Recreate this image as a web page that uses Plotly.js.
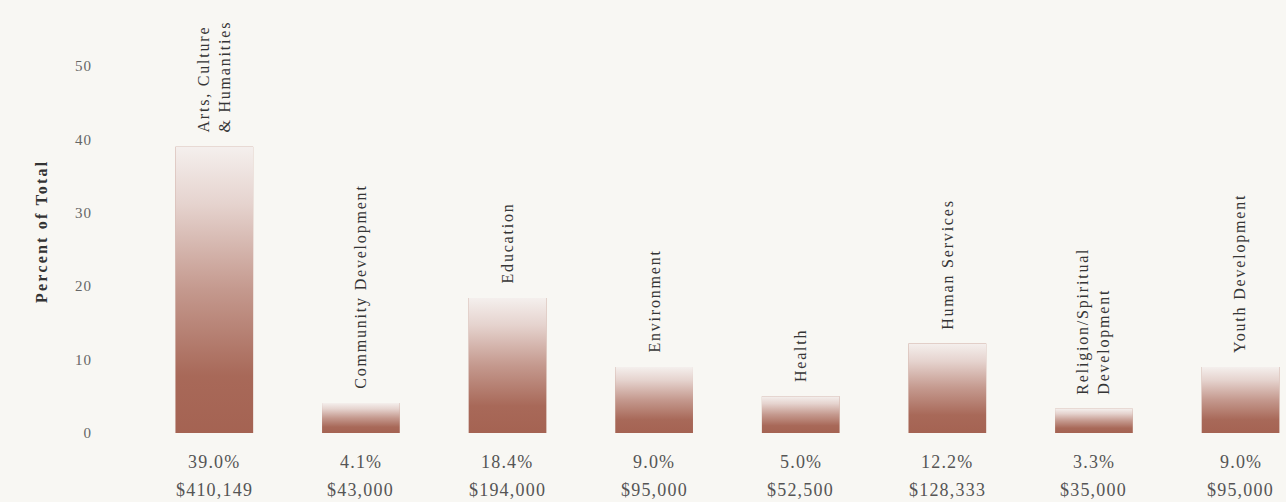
<!DOCTYPE html>
<html>
<head>
<meta charset="utf-8">
<script src="https://cdn.plot.ly/plotly-3.0.1.min.js"></script>
<style>
  html, body { margin: 0; padding: 0; background: #f8f7f3; }
  #chart { width: 1286px; height: 502px; }
  .annotation-text { letter-spacing: 1.2px; }
  .ytick text { letter-spacing: 1px; }
</style>
</head>
<body>
<div id="chart"></div>
<script>
// ---- data ----
const categories = [
  'Arts, Culture<br>& Humanities',
  'Community Development',
  'Education',
  'Environment',
  'Health',
  'Human Services',
  'Religion/Spiritual<br>Development',
  'Youth Development'
];
const percents = [39.0, 4.1, 18.4, 9.0, 5.0, 12.2, 3.3, 9.0];
const percentLabels = ['39.0%', '4.1%', '18.4%', '9.0%', '5.0%', '12.2%', '3.3%', '9.0%'];
const amountLabels = ['$410,149', '$43,000', '$194,000', '$95,000', '$52,500', '$128,333', '$35,000', '$95,000'];
const yTicks = [0, 10, 20, 30, 40, 50];
const yTitle = 'Percent of Total';

// ---- styling ----
const BG = '#f8f7f3';
const BAR = '#a3604f';
const BAR_W = 0.53;
const SERIF = 'Liberation Serif, serif';
const idx = categories.map((_, i) => i);

const traces = [];
traces.push({
  type: 'bar',
  x: idx,
  y: percents,
  width: BAR_W,
  marker: { color: BAR, line: { width: 0 } },
  hoverinfo: 'skip',
  showlegend: false
});

// vertical fade overlay for each bar, built from the bar's own value
idx.forEach(i => {
  const v = percents[i];
  const l = i - BAR_W / 2, r = i + BAR_W / 2;
  traces.push({
    type: 'scatter',
    mode: 'none',
    x: [l, r, r, l, l],
    y: [0, 0, v, v, 0],
    fill: 'toself',
    fillgradient: {
      type: 'vertical',
      colorscale: [
        [0, 'rgba(246,240,238,0.02)'],
        [0.2, 'rgba(246,240,238,0.06)'],
        [0.5, 'rgba(246,238,236,0.4)'],
        [0.8, 'rgba(246,240,238,0.8)'],
        [1, 'rgba(247,244,242,0.97)']
      ]
    },
    hoverinfo: 'skip',
    showlegend: false
  });
});

const annotations = [];
idx.forEach(i => {
  annotations.push({
    x: i, y: percents[i], xref: 'x', yref: 'y',
    text: categories[i],
    textangle: -90,
    showarrow: false,
    xanchor: 'center', yanchor: 'bottom', align: 'left',
    yshift: 12,
    font: { family: SERIF, size: 16, color: '#353535' }
  });
  annotations.push({
    x: i, y: 0, xref: 'x', yref: 'y',
    text: percentLabels[i],
    showarrow: false,
    xanchor: 'center', yanchor: 'middle',
    yshift: -29,
    font: { family: SERIF, size: 18, color: '#555' }
  });
  annotations.push({
    x: i, y: 0, xref: 'x', yref: 'y',
    text: amountLabels[i],
    showarrow: false,
    xanchor: 'center', yanchor: 'middle',
    yshift: -57,
    font: { family: SERIF, size: 18, color: '#555' }
  });
});
// y-axis title
annotations.push({
  x: 0, y: 27.4, xref: 'paper', yref: 'y',
  xanchor: 'center', yanchor: 'middle',
  xshift: -99,
  text: '<b>' + yTitle + '</b>',
  textangle: -90,
  showarrow: false,
  font: { family: SERIF, size: 16, color: '#333' }
});

const layout = {
  width: 1286,
  height: 502,
  paper_bgcolor: BG,
  plot_bgcolor: BG,
  margin: { l: 141, r: 0, t: 0, b: 69 },
  showlegend: false,
  font: { family: SERIF, color: '#555' },
  xaxis: {
    range: [-0.5, 7.31],
    showticklabels: false,
    showgrid: false,
    zeroline: false,
    showline: false,
    ticks: ''
  },
  yaxis: {
    range: [0, 59],
    tickmode: 'array',
    tickvals: yTicks,
    ticktext: yTicks.map(String),
    tickfont: { family: SERIF, size: 15, color: '#666' },
    showgrid: false,
    zeroline: false,
    showline: false,
    ticks: '',
    ticklabelstandoff: 48
  },
  annotations: annotations
};

Plotly.newPlot('chart', traces, layout, { displayModeBar: false, staticPlot: true }).then(() => {
  // wider letter spacing for the category labels and the y title
  const wide = categories.map(c => c.split('<br>').join(''));
  document.querySelectorAll('.annotation-text').forEach(t => {
    const txt = t.textContent;
    if (wide.includes(txt)) t.style.letterSpacing = '1.8px';
    if (txt === yTitle) t.style.letterSpacing = '2.2px';
  });
});
</script>
</body>
</html>
